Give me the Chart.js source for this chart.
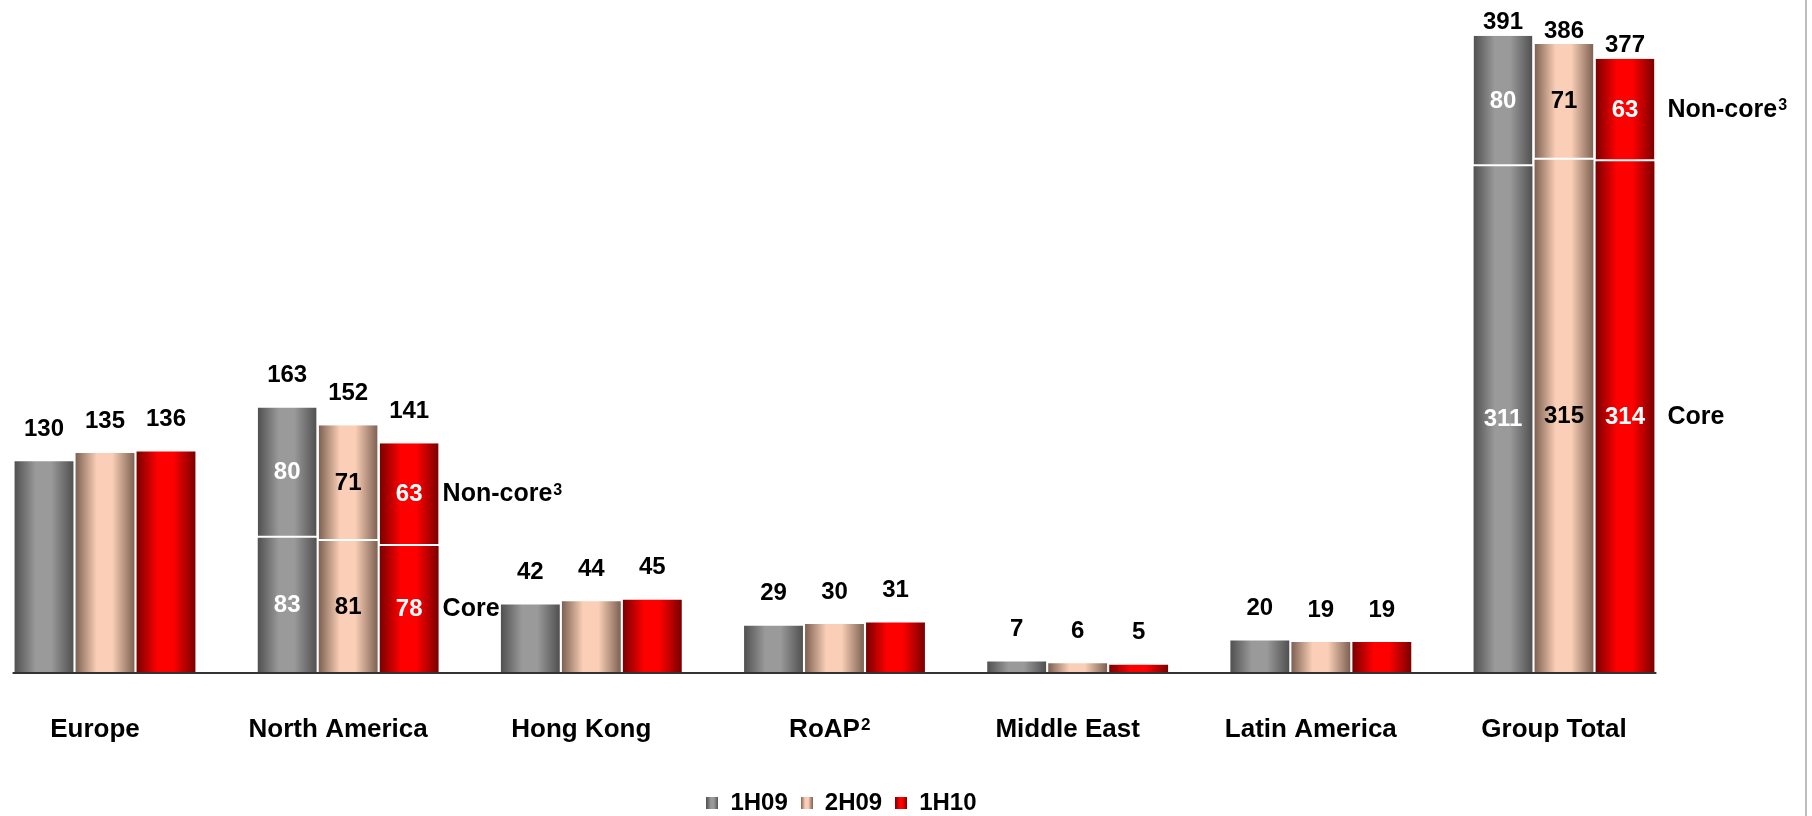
<!DOCTYPE html>
<html><head><meta charset="utf-8">
<script src="https://cdn.jsdelivr.net/npm/chart.js@4.4.1/dist/chart.umd.min.js"></script>
<style>html,body{margin:0;padding:0;background:#fff;}canvas{display:block;}</style>
</head><body>
<canvas id="c" width="1812" height="816"></canvas>
<script>
// ---- data ----
const categories = ['Europe', 'North America', 'Hong Kong', 'RoAP', 'Middle East', 'Latin America', 'Group Total'];
const categoryNotes = ['', '', '', '2', '', '', ''];
const seriesNames = ['1H09', '2H09', '1H10'];
const core1H09 = [130, 83, 42, 29, 7, 20, 311];
const core2H09 = [135, 81, 44, 30, 6, 19, 315];
const core1H10 = [136, 78, 45, 31, 5, 19, 314];
const nonCore1H09 = [null, 80, null, null, null, null, 80];
const nonCore2H09 = [null, 71, null, null, null, null, 71];
const nonCore1H10 = [null, 63, null, null, null, null, 63];
const segmentNames = ['Core', 'Non-core'];
const segmentNote = '3';

// ---- styles ----
const FONT = "'Liberation Sans', Arial, Helvetica, sans-serif";
const palettes = [
  {edge: '#505050', mid: '#9a9a9a', text: '#ffffff'},
  {edge: '#7d6152', mid: '#fbcfb7', text: '#000000'},
  {edge: '#7a0000', mid: '#ff0000', text: '#ffffff'}
];
const totalLift = [32, 32, 32, 32, 32, 32, 13];   // px above bar top
const noteGap = [4, 4, 4, 4, 4, 4, 13];           // px right of last bar
const TICK_PAD = 41, TICK_SIZE = 26, TICK_OFFSET = -10;

const coreSets = [core1H09, core2H09, core1H10];
const nonSets = [nonCore1H09, nonCore2H09, nonCore1H10];

function addStops(g, p) {
  g.addColorStop(0, p.edge);
  g.addColorStop(0.36, p.mid);
  g.addColorStop(0.62, p.mid);
  g.addColorStop(1, p.edge);
}
function swatch(p) {
  const c = document.createElement('canvas');
  c.width = 12; c.height = 12;
  const g = c.getContext('2d');
  const gr = g.createLinearGradient(0, 0, 12, 0);
  addStops(gr, p);
  g.fillStyle = gr; g.fillRect(0, 0, 12, 12);
  return c;
}
const swatches = palettes.map(swatch);

const datasets = [];
seriesNames.forEach((s, i) => {
  datasets.push({
    label: s, data: coreSets[i], stack: s, series: i,
    backgroundColor: palettes[i].mid, borderWidth: 0, clip: false
  });
  datasets.push({
    label: s + ' ' + segmentNames[1], data: nonSets[i], stack: s, series: i,
    backgroundColor: palettes[i].mid, borderColor: '#ffffff',
    borderWidth: {top: 0, left: 0, right: 0, bottom: 2}, borderSkipped: false, clip: false
  });
});

const gradientBars = {
  id: 'gradientBars',
  afterLayout(chart) {
    if (chart.legend) { chart.legend.left += 7; chart.legend.right += 7; }
  },
  beforeDatasetDraw(chart, args) {
    const ctx = chart.ctx;
    const ds = chart.data.datasets[args.index];
    const pal = palettes[ds.series];
    args.meta.data.forEach((el, i) => {
      if (ds.data[i] == null) return;
      const g = ctx.createLinearGradient(el.x - el.width / 2, 0, el.x + el.width / 2, 0);
      addStops(g, pal);
      const orig = el.options;
      el.options = Object.assign({}, orig, {backgroundColor: g});
      el.draw(ctx);
      el.options = orig;
    });
    return false;
  }
};

const decorations = {
  id: 'decorations',
  afterDatasetsDraw(chart) {
    const ctx = chart.ctx;
    const y0 = chart.scales.y.getPixelForValue(0);
    const first = chart.getDatasetMeta(0).data[0];
    const lastMeta = chart.getDatasetMeta(4).data;
    const last = lastMeta[lastMeta.length - 1];
    ctx.save();
    // baseline
    ctx.strokeStyle = '#333333'; ctx.lineWidth = 2;
    ctx.beginPath();
    ctx.moveTo(first.x - first.width / 2 - 2, y0);
    ctx.lineTo(last.x + last.width / 2 + 2, y0);
    ctx.stroke();
    // right frame line
    ctx.strokeStyle = '#bdbdbd'; ctx.lineWidth = 2;
    ctx.beginPath();
    ctx.moveTo(chart.width - 6, 0); ctx.lineTo(chart.width - 6, chart.height);
    ctx.stroke();

    ctx.textAlign = 'center'; ctx.textBaseline = 'middle';
    ctx.font = 'bold 24px ' + FONT;
    seriesNames.forEach((s, si) => {
      const coreMeta = chart.getDatasetMeta(si * 2).data;
      const nonMeta = chart.getDatasetMeta(si * 2 + 1).data;
      categories.forEach((c, i) => {
        const nv = nonSets[si][i];
        const cv = coreSets[si][i];
        const topEl = nv != null ? nonMeta[i] : coreMeta[i];
        ctx.fillStyle = '#000000';
        ctx.fillText(String(cv + (nv || 0)), topEl.x, topEl.y - totalLift[i]);
        if (nv != null) {
          ctx.fillStyle = palettes[si].text;
          const ce = coreMeta[i], ne = nonMeta[i];
          ctx.fillText(String(cv), ce.x, (ce.y + ce.base) / 2);
          ctx.fillText(String(nv), ne.x, (ne.y + ne.base) / 2);
        }
      });
    });
    // segment names next to the last series
    const li = seriesNames.length - 1;
    const coreL = chart.getDatasetMeta(li * 2).data;
    const nonL = chart.getDatasetMeta(li * 2 + 1).data;
    ctx.textAlign = 'left'; ctx.fillStyle = '#000000';
    categories.forEach((c, i) => {
      if (nonSets[li][i] == null) return;
      const ce = coreL[i], ne = nonL[i];
      const x = ce.x + ce.width / 2 + noteGap[i];
      ctx.font = 'bold 25px ' + FONT;
      ctx.textBaseline = 'middle';
      ctx.fillText(segmentNames[0], x, (ce.y + ce.base) / 2);
      const ny = (ne.y + ne.base) / 2;
      ctx.fillText(segmentNames[1], x, ny);
      const w = ctx.measureText(segmentNames[1]).width;
      ctx.font = 'bold 16px ' + FONT;
      ctx.fillText(segmentNote, x + w + 1, ny - 4);
    });
    // superscript notes on category labels
    const xs = chart.scales.x;
    const ty = xs.top + TICK_PAD + TICK_SIZE * 1.2 / 2;
    categories.forEach((c, i) => {
      if (!categoryNotes[i]) return;
      ctx.font = 'bold ' + TICK_SIZE + 'px ' + FONT;
      const w = ctx.measureText(c).width;
      const cx = xs.getPixelForTick(i) + TICK_OFFSET;
      ctx.font = 'bold 17px ' + FONT;
      ctx.fillText(categoryNotes[i], cx + w / 2 + 1, ty - 4);
    });
    ctx.restore();
  }
};

new Chart(document.getElementById('c'), {
  type: 'bar',
  data: {labels: categories, datasets},
  options: {
    responsive: false,
    devicePixelRatio: 1,
    animation: false,
    layout: {padding: {left: 105, right: 248, top: 0, bottom: -9}},
    datasets: {bar: {categoryPercentage: 0.7525, barPercentage: 0.965}},
    scales: {
      x: {
        stacked: true,
        offset: false,
        grid: {display: false, drawTicks: false},
        border: {display: false},
        ticks: {
          padding: TICK_PAD, labelOffset: TICK_OFFSET, maxRotation: 0, autoSkip: false,
          color: '#000000', font: {family: FONT, size: TICK_SIZE, weight: 'bold'}
        },
        afterFit(scale) { scale.height = 105; }
      },
      y: {stacked: true, display: false, min: 0, max: 413}
    },
    plugins: {
      tooltip: {enabled: false},
      legend: {
        position: 'bottom',
        labels: {
          usePointStyle: true, boxWidth: 12, padding: 13,
          color: '#000000', font: {family: FONT, size: 24, weight: 'bold'},
          generateLabels: () => seriesNames.map((s, i) => ({
            text: s, pointStyle: swatches[i], datasetIndex: i * 2,
            fillStyle: palettes[i].mid, strokeStyle: 'transparent', lineWidth: 0,
            hidden: false, fontColor: '#000000'
          }))
        }
      }
    }
  },
  plugins: [gradientBars, decorations]
});
</script>
</body></html>
